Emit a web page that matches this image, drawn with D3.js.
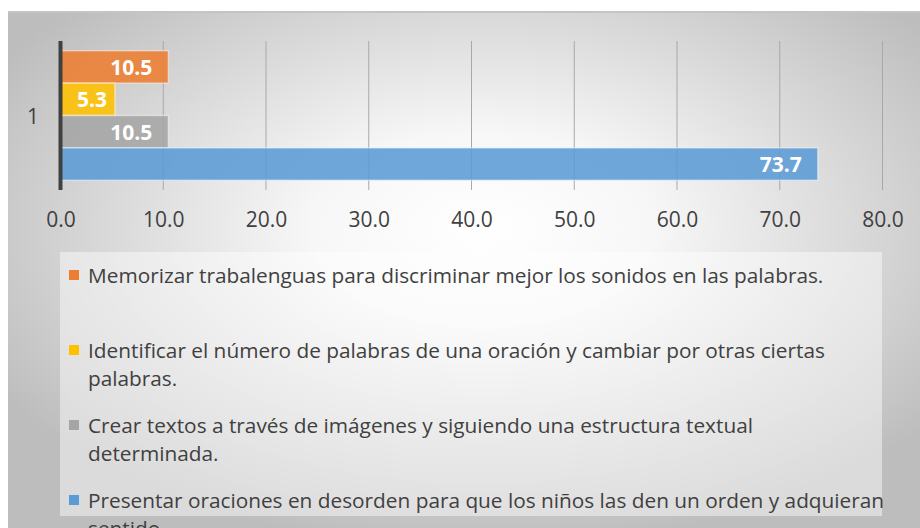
<!DOCTYPE html>
<html>
<script src="https://d3js.org/d3.v7.min.js"></script>

<head>
    <style>
        body {
            margin: 0;
            background-color: #ffffff;
            font-family: "Open Sans", Arial, sans-serif;
        }

        svg {
            display: block;
        }
    </style>
</head>

<body>
</body>
<script>
    const width = 920,
        height = 528;

    // category (only one) and the four series, top to bottom as drawn
    const categories = ["1"];
    const seriesNames = [
        "Memorizar trabalenguas para discriminar mejor los sonidos en las palabras.",
        "Identificar el número de palabras de una oración y cambiar por otras ciertas\npalabras.",
        "Crear textos a través de imágenes y siguiendo una estructura textual\ndeterminada.",
        "Presentar oraciones en desorden para que los niños las den un orden y adquieran\nsentido."
    ];
    const seriesValues = [10.5, 5.3, 10.5, 73.7];
    const seriesColors = ["#ED7D31", "#FFC000", "#A5A5A5", "#5B9BD5"];
    const xTicks = [0, 10, 20, 30, 40, 50, 60, 70, 80];

    const svg = d3.select("body").append("svg").attr("width", width).attr("height", height);

    const defs = svg.append("defs");
    const grad = defs.append("radialGradient")
        .attr("id", "bg")
        .attr("cx", "52%").attr("cy", "42%").attr("r", "62%");
    grad.append("stop").attr("offset", "0%").attr("stop-color", "#ffffff");
    grad.append("stop").attr("offset", "30%").attr("stop-color", "#f7f7f7");
    grad.append("stop").attr("offset", "100%").attr("stop-color", "#bdbdbd");

    // chart area
    svg.append("rect")
        .attr("x", 8).attr("y", 12)
        .attr("width", width - 8).attr("height", height - 12)
        .attr("fill", "url(#bg)");
    svg.append("line")
        .attr("x1", 8).attr("x2", width)
        .attr("y1", 12).attr("y2", 12)
        .attr("stroke", "#c4c4c4").attr("stroke-width", 2);

    const x = d3.scaleLinear().domain([0, 80]).range([60.5, 882.5]);
    const y = d3.scaleBand().domain(categories).range([41, 190]).paddingOuter(0.075);
    const ySeries = d3.scaleBand().domain(d3.range(seriesValues.length)).range([0, y.bandwidth()]);

    // gridlines
    svg.append("g")
        .selectAll("line")
        .data(xTicks.slice(1))
        .join("line")
        .attr("x1", d => x(d)).attr("x2", d => x(d))
        .attr("y1", 41).attr("y2", 190)
        .attr("stroke", "#a8a8a8").attr("stroke-width", 1);

    // bars
    const bars = svg.append("g")
        .selectAll("g")
        .data(seriesValues.map((v, i) => ({ v, i, cat: categories[0] })))
        .join("g");
    bars.append("rect")
        .attr("x", x(0))
        .attr("y", d => y(d.cat) + ySeries(d.i))
        .attr("width", d => x(d.v) - x(0))
        .attr("height", ySeries.bandwidth())
        .attr("fill", d => seriesColors[d.i])
        .attr("fill-opacity", 0.88)
        .attr("stroke", "#ffffff")
        .attr("stroke-opacity", 0.45)
        .attr("stroke-width", 1.5);
    bars.append("text")
        .attr("x", d => x(d.v) - ((x(d.v) - x(0)) < 70 ? 8 : 16))
        .attr("y", d => y(d.cat) + ySeries(d.i) + ySeries.bandwidth() / 2)
        .attr("text-anchor", "end")
        .attr("dominant-baseline", "central")
        .attr("font-size", 21)
        .attr("font-weight", "bold")
        .attr("fill", "#ffffff")
        .text(d => d.v.toFixed(1));

    // vertical axis line and category label
    svg.append("line")
        .attr("x1", x(0)).attr("x2", x(0))
        .attr("y1", 41).attr("y2", 190)
        .attr("stroke", "#404040").attr("stroke-width", 4);
    svg.append("g")
        .selectAll("text")
        .data(categories)
        .join("text")
        .attr("x", 33)
        .attr("y", d => y(d) + y.bandwidth() / 2)
        .attr("text-anchor", "middle")
        .attr("dominant-baseline", "central")
        .attr("font-size", 21)
        .attr("fill", "#404040")
        .text(d => d);

    // x axis
    const xAxis = svg.append("g")
        .attr("transform", "translate(0,209)")
        .call(d3.axisBottom(x).tickValues(xTicks).tickFormat(d3.format(".1f")).tickSize(0));
    xAxis.select(".domain").remove();
    xAxis.selectAll("text")
        .attr("font-family", "'Open Sans', Arial, sans-serif")
        .attr("font-size", 21)
        .attr("fill", "#404040");

    // legend
    svg.append("rect")
        .attr("x", 60).attr("y", 252)
        .attr("width", 822).attr("height", 264)
        .attr("fill", "#ffffff").attr("fill-opacity", 0.45);
    const legend = svg.append("g")
        .selectAll("g")
        .data(seriesNames)
        .join("g")
        .attr("transform", (d, i) => `translate(69,${275 + i * 75})`);
    legend.append("rect")
        .attr("x", 0).attr("y", -5)
        .attr("width", 10).attr("height", 10)
        .attr("fill", (d, i) => seriesColors[i]);
    legend.each(function (d) {
        const t = d3.select(this).append("text")
            .attr("x", 19)
            .attr("font-size", 20.8)
            .attr("fill", "#404040");
        d.split("\n").forEach((line, k) => {
            t.append("tspan")
                .attr("x", 19)
                .attr("y", k * 28)
                .attr("dominant-baseline", "central")
                .text(line);
        });
    });
</script>

</html>
